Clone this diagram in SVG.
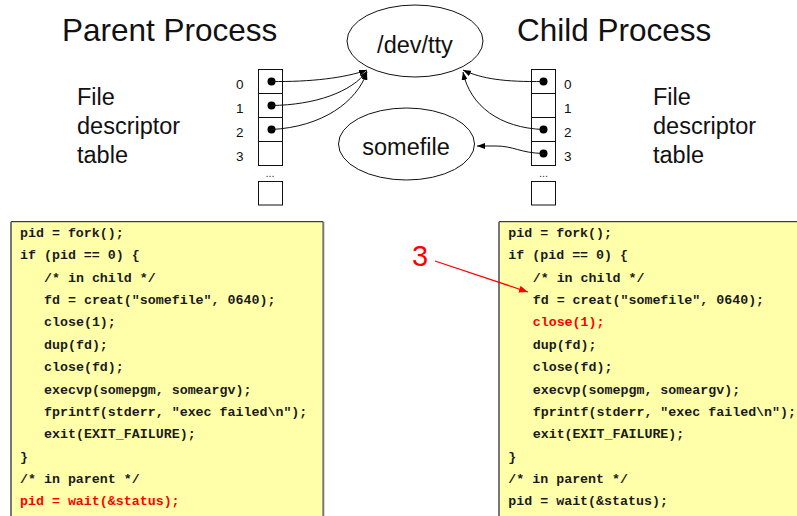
<svg xmlns="http://www.w3.org/2000/svg" width="797" height="516" viewBox="0 0 797 516">
<style>
.title{font-family:"Liberation Sans",Arial,sans-serif;font-size:31.5px;fill:#111}
.lbl{font-family:"Liberation Sans",Arial,sans-serif;font-size:23.5px;fill:#111}
.idx{font-family:"Liberation Sans",Arial,sans-serif;font-size:13.5px;fill:#111}
.dots{font-family:"Liberation Sans",Arial,sans-serif;font-size:11px;fill:#333;text-anchor:middle}
.cell{fill:#fff;stroke:#111;stroke-width:1}
.dot{fill:#000}
.ell{fill:#fff;stroke:#111;stroke-width:1}
.conn{fill:none;stroke:#111;stroke-width:1;marker-end:url(#ah)}
.code{font-family:"Liberation Mono","Courier New",monospace;font-size:13.3px;font-weight:bold;fill:#1a1a1a}
.red{fill:#ff0000}
.box{fill:#ffffaa;stroke:none}
.boxtop{stroke:#111;stroke-width:1}
.boxside{stroke:#777;stroke-width:2}
</style>
<defs>
<marker id="ah" markerUnits="userSpaceOnUse" markerWidth="8" markerHeight="6" refX="8" refY="3" orient="auto">
<path d="M0,0 L8,3 L0,6 z" fill="#000"/>
</marker>
<marker id="ahr" markerUnits="userSpaceOnUse" markerWidth="9" markerHeight="7" refX="9" refY="3.5" orient="auto">
<path d="M0,0 L9,3.5 L0,7 z" fill="#ff0000"/>
</marker>
</defs>
<rect width="797" height="516" fill="#fff"/>

<g id="parent-title"><text class="title" x="62" y="41">Parent Process</text></g>
<g id="child-title"><text class="title" x="517" y="41">Child Process</text></g>

<g id="parent-label">
<text class="lbl" x="77" y="105">File</text>
<text class="lbl" x="77" y="134">descriptor</text>
<text class="lbl" x="77" y="163">table</text>
</g>
<g id="child-label">
<text class="lbl" x="653" y="105">File</text>
<text class="lbl" x="653" y="134">descriptor</text>
<text class="lbl" x="653" y="163">table</text>
</g>

<g id="devtty">
<ellipse class="ell" cx="415" cy="41" rx="68" ry="36"/>
<text class="lbl" x="415" y="53" text-anchor="middle">/dev/tty</text>
</g>
<g id="somefile">
<ellipse class="ell" cx="406.5" cy="144" rx="68" ry="36"/>
<text class="lbl" x="406" y="155" text-anchor="middle">somefile</text>
</g>

<g id="parent-fdtable">
<rect class="cell" x="258.5" y="69.5" width="24" height="24"/>
<rect class="cell" x="258.5" y="93.5" width="24" height="24"/>
<rect class="cell" x="258.5" y="117.5" width="24" height="24"/>
<rect class="cell" x="258.5" y="141.5" width="24" height="24"/>
<text class="dots" x="270" y="177">...</text>
<rect class="cell" x="258.5" y="181.5" width="24" height="23.5"/>
<circle class="dot" cx="271.5" cy="81.5" r="4"/>
<circle class="dot" cx="271.5" cy="105.5" r="4"/>
<circle class="dot" cx="271.5" cy="129.5" r="4"/>
<text class="idx" x="236" y="89">0</text>
<text class="idx" x="236" y="113">1</text>
<text class="idx" x="236" y="137">2</text>
<text class="idx" x="236" y="161">3</text>
</g>

<g id="child-fdtable">
<rect class="cell" x="531.5" y="69.5" width="24" height="24"/>
<rect class="cell" x="531.5" y="93.5" width="24" height="24"/>
<rect class="cell" x="531.5" y="117.5" width="24" height="24"/>
<rect class="cell" x="531.5" y="141.5" width="24" height="24"/>
<text class="dots" x="543.5" y="177">...</text>
<rect class="cell" x="531.5" y="181.5" width="24" height="23.5"/>
<circle class="dot" cx="543.5" cy="81.5" r="4"/>
<circle class="dot" cx="543.5" cy="129.5" r="4"/>
<circle class="dot" cx="543.5" cy="153.5" r="4"/>
<text class="idx" x="564" y="89">0</text>
<text class="idx" x="564" y="113">1</text>
<text class="idx" x="564" y="137">2</text>
<text class="idx" x="564" y="161">3</text>
</g>

<g id="step-label"><text x="412" y="266" font-family="Liberation Sans,Arial,sans-serif" font-size="29" fill="#ff0000">3</text></g>

<g id="parent-code">
<rect class="box" x="11" y="221.7" width="312.3" height="300"/>
<line class="boxtop" x1="11" y1="221.7" x2="323.3" y2="221.7"/>
<line class="boxside" x1="11" y1="221.7" x2="11" y2="520"/>
<line class="boxside" x1="323.3" y1="221.7" x2="323.3" y2="520"/>
<text class="code" x="20" y="237">pid = fork();</text>
<text class="code" x="20" y="259.4">if (pid == 0) {</text>
<text class="code" x="44" y="281.7">/* in child */</text>
<text class="code" x="44" y="304.1">fd = creat("somefile", 0640);</text>
<text class="code" x="44" y="326.4">close(1);</text>
<text class="code" x="44" y="348.8">dup(fd);</text>
<text class="code" x="44" y="371.2">close(fd);</text>
<text class="code" x="44" y="393.5">execvp(somepgm, someargv);</text>
<text class="code" x="44" y="415.9">fprintf(stderr, "exec failed\n");</text>
<text class="code" x="44" y="438.2">exit(EXIT_FAILURE);</text>
<text class="code" x="20" y="460.6">}</text>
<text class="code" x="20" y="483">/* in parent */</text>
<text class="code red" x="20" y="505.3">pid = wait(&amp;status);</text>
</g>

<g id="child-code">
<rect class="box" x="499" y="221.7" width="310" height="300"/>
<line class="boxtop" x1="499" y1="221.7" x2="800" y2="221.7"/>
<line class="boxside" x1="499" y1="221.7" x2="499" y2="520"/>
<text class="code" x="508.3" y="237">pid = fork();</text>
<text class="code" x="508.3" y="259.4">if (pid == 0) {</text>
<text class="code" x="532.7" y="281.7">/* in child */</text>
<text class="code" x="532.7" y="304.1">fd = creat("somefile", 0640);</text>
<text class="code red" x="532.7" y="326.4">close(1);</text>
<text class="code" x="532.7" y="348.8">dup(fd);</text>
<text class="code" x="532.7" y="371.2">close(fd);</text>
<text class="code" x="532.7" y="393.5">execvp(somepgm, someargv);</text>
<text class="code" x="532.7" y="415.9">fprintf(stderr, "exec failed\n");</text>
<text class="code" x="532.7" y="438.2">exit(EXIT_FAILURE);</text>
<text class="code" x="508.3" y="460.6">}</text>
<text class="code" x="508.3" y="483">/* in parent */</text>
<text class="code" x="508.3" y="505.3">pid = wait(&amp;status);</text>
</g>

<g id="connectors">
<path class="conn" d="M271.5,81.5 C310,82 345,78 367,70"/>
<path class="conn" d="M271.5,105.5 C315,105 352,92 367,71"/>
<path class="conn" d="M271.5,129.5 C322,127 357,102 367,72"/>
<path class="conn" d="M543.5,81.5 C505,82 482,79 463,70"/>
<path class="conn" d="M543.5,129.5 C500,128 470,106 463,72"/>
<path class="conn" d="M543.5,153.5 C520,153 514,146 496,146 L477,146"/>
<path d="M435,261 L528,292" fill="none" stroke="#ff0000" stroke-width="1.2" marker-end="url(#ahr)"/>
</g>
</svg>
